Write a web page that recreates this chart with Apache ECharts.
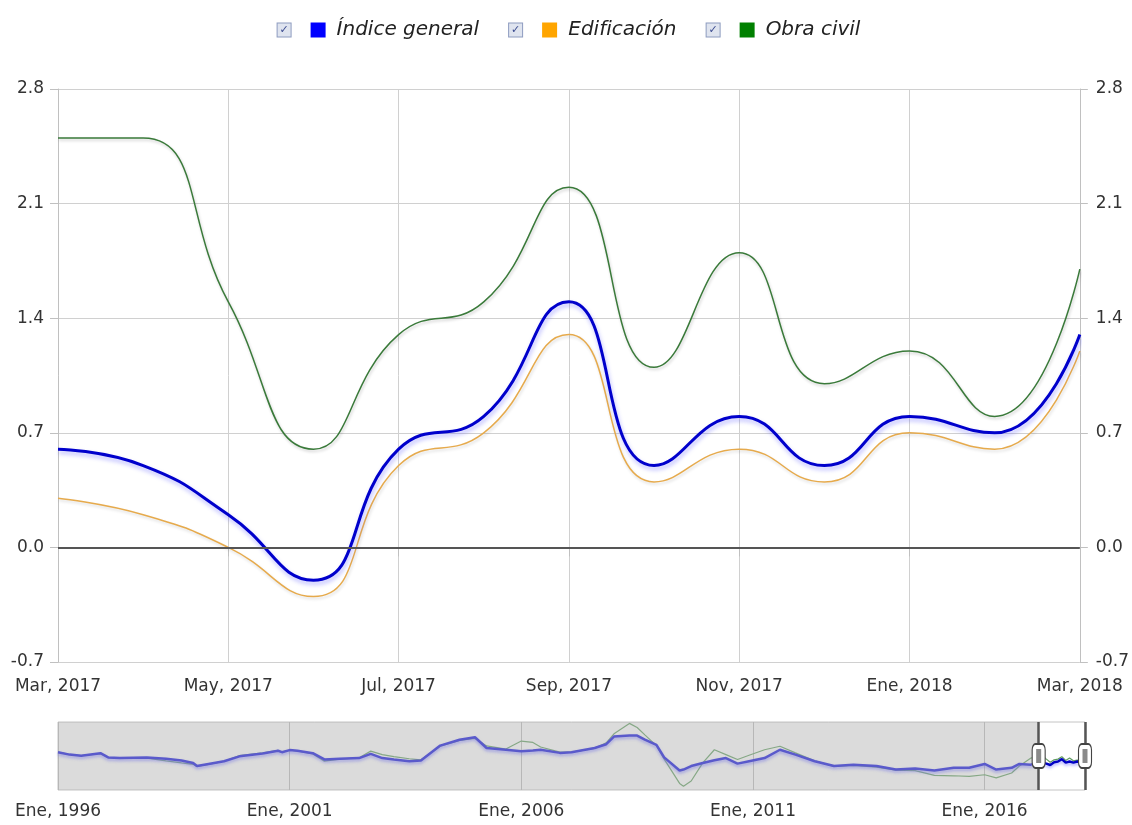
<!DOCTYPE html>
<html lang="es">
<head>
    <meta charset="UTF-8">
    <title>Índice de costos</title>
    <script src="https://cdn.jsdelivr.net/npm/echarts/dist/echarts.min.js"></script>
    <style>
        html, body { margin: 0; padding: 0; background: #fff; }
    </style>
</head>
<body>
   <div id="main" style="width: 1132px;height:825px;"></div>
   <script type="text/javascript">
       // periodo visible (mensual)
       var months = ['Mar, 2017', 'Abr, 2017', 'May, 2017', 'Jun, 2017', 'Jul, 2017', 'Ago, 2017', 'Sep, 2017',
                     'Oct, 2017', 'Nov, 2017', 'Dic, 2017', 'Ene, 2018', 'Feb, 2018', 'Mar, 2018'];
       var general     = [0.6, 0.5, 0.2, -0.2, 0.6, 0.8, 1.5, 0.5, 0.8, 0.5, 0.8, 0.7, 1.3];
       var edificacion = [0.3, 0.2, 0.0, -0.3, 0.5, 0.7, 1.3, 0.4, 0.6, 0.4, 0.7, 0.6, 1.2];
       var obraCivil   = [2.5, 2.5, 1.5, 0.6, 1.3, 1.5, 2.2, 1.1, 1.8, 1.0, 1.2, 0.8, 1.7];

       var navDates = ['1996-01', '1996-04', '1996-07', '1996-12', '1997-02', '1997-05', '1997-12', '1998-05',
                       '1998-09', '1998-12', '1999-01', '1999-04', '1999-08', '1999-12', '2000-06', '2000-10',
                       '2000-11', '2001-01', '2001-03', '2001-07', '2001-10', '2002-02', '2002-07', '2002-10',
                       '2003-01', '2003-04', '2003-08', '2003-11', '2004-04', '2004-09', '2005-01', '2005-04',
                       '2005-09', '2006-01', '2006-04', '2006-06', '2006-11', '2007-02', '2007-08', '2007-11',
                       '2008-01', '2008-05', '2008-07', '2008-09', '2008-12', '2009-02', '2009-06', '2009-07',
                       '2009-09', '2009-12', '2010-03', '2010-06', '2010-09', '2010-12', '2011-04', '2011-08',
                       '2011-12', '2012-05', '2012-10', '2013-03', '2013-09', '2014-02', '2014-07', '2014-12',
                       '2015-05', '2015-09', '2016-01', '2016-04', '2016-08', '2016-10', '2017-01'];
       var navGeneral = [3.5, 2.8, 2.5, 3.2, 2.0, 1.8, 2.0, 1.6,
                         1.1, 0.4, -0.5, 0.1, 0.9, 2.3, 3.1, 3.9,
                         3.5, 4.1, 3.9, 3.2, 1.4, 1.6, 1.8, 3.0,
                         1.8, 1.4, 0.9, 1.1, 5.4, 7.1, 7.8, 4.7,
                         4.2, 3.8, 4.0, 4.2, 3.3, 3.5, 4.7, 5.8,
                         8.0, 8.3, 8.3, 7.1, 5.6, 2.0, -1.8, -1.5,
                         -0.5, 0.4, 1.2, 1.8, 0.2, 0.9, 1.8, 4.2,
                         2.8, 0.9, -0.5, -0.1, -0.5, -1.5, -1.2, -1.8,
                         -1.0, -1.0, 0.1, -1.5, -1.0, 0.1, -0.1];
       var navObraCivil = [3.5, 2.8, 2.5, 3.1, 2.0, 1.7, 1.8, 1.0,
                           0.4, 0.0, -0.6, 0.0, 0.9, 2.5, 3.3, 4.0,
                           3.5, 4.1, 3.9, 3.0, 0.9, 1.5, 1.9, 3.8,
                           2.8, 2.2, 1.6, 1.3, 5.2, 6.9, 7.5, 5.3,
                           4.4, 6.7, 6.3, 5.0, 3.5, 3.5, 4.6, 6.2,
                           8.8, 11.8, 10.6, 8.5, 5.4, 1.5, -5.5, -6.3,
                           -4.8, 0.4, 4.2, 2.8, 1.4, 2.6, 4.2, 5.2,
                           3.3, 1.0, -0.6, -0.3, -0.8, -1.7, -1.8, -3.2,
                           -3.3, -3.5, -3.0, -3.9, -2.5, -0.5, 1.8];
       var navTicks = ['Ene, 1996', 'Ene, 2001', 'Ene, 2006', 'Ene, 2011', 'Ene, 2016'];

       var names = ['Índice general', 'Edificación', 'Obra civil'];
       var legendColors = ['#0000ff', '#ffa500', '#008000'];

       var FONT = 'DejaVu Sans';
       var START = 1996;
       function monthIndex(s) {
           var p = s.split('-');
           return (parseInt(p[0], 10) - START) * 12 + parseInt(p[1], 10) - 1;
       }
       var winStart = monthIndex('2017-03');
       var winEnd = winStart + months.length - 1;

       // tramo historico (sombreado), se une al primer mes de la ventana
       function navHist(hist, recent) {
           var out = [];
           for (var i = 0; i < navDates.length; i++) out.push([monthIndex(navDates[i]), hist[i]]);
           out.push([winStart, recent[0]]);
           return out;
       }
       // tramo seleccionado
       function navWin(recent) {
           return recent.map(function (v, j) { return [winStart + j, v]; });
       }

       var myChart = echarts.init(document.getElementById('main'));

       var rich = {
           cb: { width: 13, height: 13, lineHeight: 13, borderColor: '#8e9cc0', borderWidth: 1,
                 backgroundColor: '#dfe4ef', color: '#3b4b8f', fontSize: 11, align: 'center', fontFamily: FONT },
           gap1: { width: 20 },
           gap2: { width: 11 },
           t: { fontSize: 20, fontStyle: 'italic', color: '#222', fontFamily: FONT }
       };
       names.forEach(function (n, i) {
           rich['sq' + i] = { width: 15, height: 15, backgroundColor: legendColors[i] };
       });

       var axisLabelStyle = { color: '#333', fontSize: 17, fontFamily: FONT };
       var yFmt = function (v) { return Math.abs(v) < 1e-9 ? '0.0' : v.toFixed(1); };

       var option = {
           animation: false,
           backgroundColor: '#fff',
           legend: {
               top: 15,
               left: 'center',
               itemWidth: 0,
               itemHeight: 0,
               itemGap: 24,
               data: names,
               formatter: function (name) {
                   var i = names.indexOf(name);
                   return '{cb|✓}{gap1| }{sq' + i + '| }{gap2| }{t|' + name + '}';
               },
               textStyle: { rich: rich }
           },
           grid: [
               { left: 58, right: 52, top: 89, height: 573 },
               { left: 58, right: 47, top: 722, height: 68, show: true, borderColor: '#c4c4c4',
                 borderWidth: 1, backgroundColor: '#fff' }
           ],
           xAxis: [
               {
                   type: 'category',
                   gridIndex: 0,
                   data: months,
                   boundaryGap: false,
                   axisLine: { lineStyle: { color: '#c0c0c0' } },
                   axisTick: { show: true, interval: 1, length: 9, lineStyle: { color: '#c0c0c0' } },
                   axisLabel: Object.assign({ interval: 1, margin: 16 }, axisLabelStyle),
                   splitLine: { show: true, interval: 1, lineStyle: { color: '#d0d0d0' } }
               },
               {
                   type: 'value',
                   gridIndex: 1,
                   min: 0,
                   max: winEnd,
                   interval: 60,
                   axisLine: { show: false },
                   axisTick: { show: true, length: 8, lineStyle: { color: '#c0c0c0' } },
                   axisLabel: Object.assign({
                       margin: 13,
                       showMaxLabel: false,
                       formatter: function (v) {
                           return v % 60 === 0 ? navTicks[v / 60] : '';
                       }
                   }, axisLabelStyle),
                   splitLine: { show: true, lineStyle: { color: '#bdbdbd' } }
               }
           ],
           yAxis: [
               {
                   type: 'value',
                   gridIndex: 0,
                   min: -0.7,
                   max: 2.8,
                   interval: 0.7,
                   axisLine: { show: true, lineStyle: { color: '#c0c0c0' } },
                   axisTick: { show: true, length: 8, lineStyle: { color: '#c0c0c0' } },
                   axisLabel: Object.assign({ margin: 14, formatter: yFmt }, axisLabelStyle),
                   splitLine: { show: true, lineStyle: { color: '#d0d0d0' } }
               },
               {
                   type: 'value',
                   gridIndex: 0,
                   position: 'right',
                   min: -0.7,
                   max: 2.8,
                   interval: 0.7,
                   axisLine: { show: true, lineStyle: { color: '#c0c0c0' } },
                   axisTick: { show: true, length: 8, lineStyle: { color: '#c0c0c0' } },
                   axisLabel: Object.assign({ margin: 16, formatter: yFmt }, axisLabelStyle),
                   splitLine: { show: false }
               },
               {
                   type: 'value',
                   gridIndex: 1,
                   min: -7.4,
                   max: 12.2,
                   show: false,
                   splitLine: { show: false }
               }
           ],
           series: [
               {
                   name: names[2],
                   type: 'line',
                   xAxisIndex: 0, yAxisIndex: 0,
                   data: obraCivil,
                   smooth: true,
                   symbol: 'none',
                   color: '#3a7a3a',
                   lineStyle: { width: 1.5, color: '#3a7a3a', shadowColor: 'rgba(0,0,0,0.2)',
                                shadowBlur: 3, shadowOffsetX: 1, shadowOffsetY: 2 }
               },
               {
                   name: names[1],
                   type: 'line',
                   xAxisIndex: 0, yAxisIndex: 0,
                   data: edificacion,
                   smooth: true,
                   symbol: 'none',
                   color: '#e6aa4c',
                   lineStyle: { width: 1.5, color: '#e6aa4c', shadowColor: 'rgba(0,0,0,0.15)',
                                shadowBlur: 3, shadowOffsetX: 1, shadowOffsetY: 2 }
               },
               {
                   name: names[0],
                   type: 'line',
                   xAxisIndex: 0, yAxisIndex: 0,
                   data: general,
                   smooth: true,
                   symbol: 'none',
                   color: '#0000cc',
                   z: 4,
                   lineStyle: { width: 3, color: '#0000cc', shadowColor: 'rgba(80,80,255,0.4)',
                                shadowBlur: 4, shadowOffsetX: 1, shadowOffsetY: 3 },
                   markLine: {
                       silent: true,
                       symbol: 'none',
                       label: { show: false },
                       lineStyle: { color: '#555', width: 2, type: 'solid', shadowBlur: 0 },
                       data: [{ yAxis: 0 }]
                   }
               },
               {
                   name: 'nav-obra-hist',
                   type: 'line',
                   xAxisIndex: 1, yAxisIndex: 2,
                   data: navHist(navObraCivil, obraCivil),
                   symbol: 'none',
                   color: '#86a886',
                   lineStyle: { width: 1.2, color: '#86a886' },
                   markArea: {
                       silent: true,
                       itemStyle: { color: 'rgba(175,175,175,0.45)' },
                       data: [[{ xAxis: 0 }, { xAxis: winStart }]]
                   }
               },
               {
                   name: 'nav-obra-win',
                   type: 'line',
                   xAxisIndex: 1, yAxisIndex: 2,
                   data: navWin(obraCivil),
                   symbol: 'none',
                   color: '#5f9a5f',
                   lineStyle: { width: 1.2, color: '#5f9a5f' }
               },
               {
                   name: 'nav-general-hist',
                   type: 'line',
                   xAxisIndex: 1, yAxisIndex: 2,
                   data: navHist(navGeneral, general),
                   symbol: 'none',
                   color: '#5a5acb',
                   lineStyle: { width: 2.5, color: '#5a5acb', shadowColor: 'rgba(110,110,230,0.5)',
                                shadowBlur: 3, shadowOffsetY: 2 }
               },
               {
                   name: 'nav-general-win',
                   type: 'line',
                   xAxisIndex: 1, yAxisIndex: 2,
                   data: navWin(general),
                   symbol: 'none',
                   color: '#0000c4',
                   lineStyle: { width: 2.5, color: '#0000c4', shadowColor: 'rgba(80,80,255,0.45)',
                                shadowBlur: 3, shadowOffsetY: 2 },
                   markLine: {
                       silent: true,
                       symbol: 'none',
                       label: { show: false },
                       lineStyle: { color: '#555', width: 2.5, type: 'solid' },
                       data: [{ xAxis: winStart }, { xAxis: winEnd }]
                   },
                   markPoint: {
                       silent: true,
                       label: { show: false },
                       data: [
                           { coord: [winStart, 2.4], symbol: 'roundRect', symbolSize: [13, 24],
                             itemStyle: { color: '#fff', borderColor: '#444', borderWidth: 1.5 } },
                           { coord: [winEnd, 2.4], symbol: 'roundRect', symbolSize: [13, 24],
                             itemStyle: { color: '#fff', borderColor: '#444', borderWidth: 1.5 } },
                           { coord: [winStart, 2.4], symbol: 'rect', symbolSize: [5, 14],
                             itemStyle: { color: '#8a8a8a' } },
                           { coord: [winEnd, 2.4], symbol: 'rect', symbolSize: [5, 14],
                             itemStyle: { color: '#8a8a8a' } }
                       ]
                   }
               }
           ]
       };

       myChart.setOption(option);
   </script>
</body>
</html>
